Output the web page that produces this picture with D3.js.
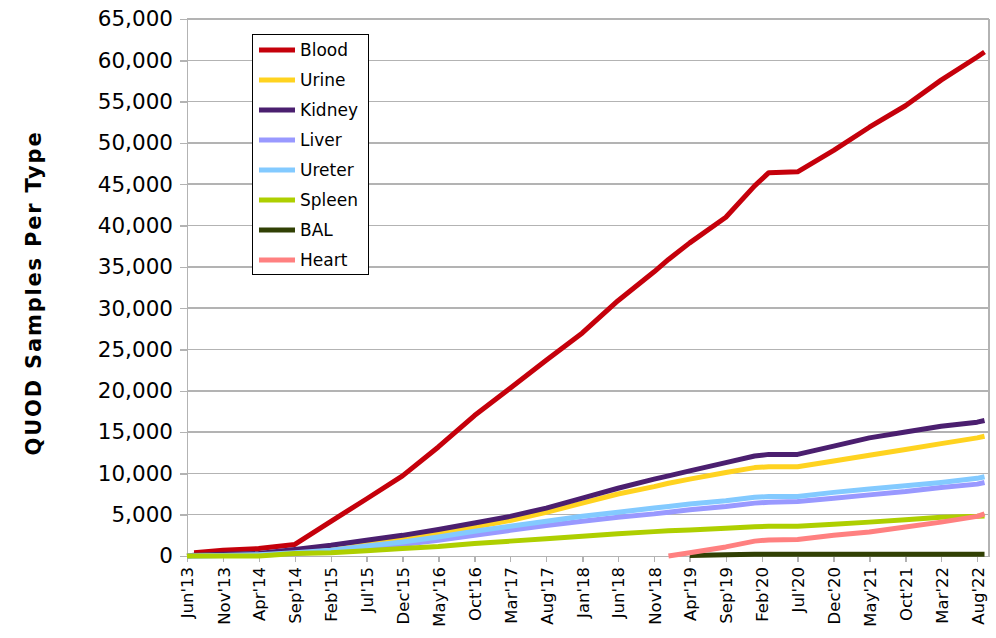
<!DOCTYPE html>
<html lang="en">
<head>
	<title>QUOD Samples</title>
	<meta charset="utf-8">
	<script src="https://d3js.org/d3.v7.min.js"></script>
	<style type="text/css">
		body {
			margin: 0;
			background: #fff;
			font-family: "DejaVu Sans", sans-serif;
		}

		.grid line {
			stroke: #b3b3b3;
			stroke-width: 1.5;
			shape-rendering: crispEdges;
		}

		.axis path,
		.axis line,
		.frame {
			stroke: #b3b3b3;
			stroke-width: 1.5;
			shape-rendering: crispEdges;
			fill: none;
		}

		.axis text {
			fill: #000;
			font-family: "DejaVu Sans", sans-serif;
		}

		.series {
			fill: none;
			stroke-width: 5;
			stroke-linejoin: round;
		}

		.legend-box {
			fill: #fff;
			stroke: #000;
			stroke-width: 1;
		}

		.legend text {
			font-size: 17px;
			fill: #000;
		}
	</style>
</head>
<body>
	<div id="vis"></div>

	<script type="text/javascript">

		/* Data */
		/* ==== */

		var months = ["2013-06", "2013-07", "2013-11", "2014-04", "2014-09", "2015-02", "2015-07",
			"2015-12", "2016-05", "2016-10", "2017-03", "2017-08", "2018-01", "2018-06", "2018-11",
			"2019-01", "2019-04", "2019-09", "2020-01", "2020-03", "2020-07", "2020-12", "2021-05",
			"2021-10", "2022-03", "2022-08", "2022-09"];

		var blood = [null, 400, 700, 900, 1400, 4200, 6900, 9700, 13200, 17000, 20300, 23700, 27000,
			30900, 34400, 35900, 37900, 41000, 44800, 46400, 46500, 49100, 51900, 54500, 57600, 60400, 61000];
		var urine = [0, 50, 150, 250, 600, 1000, 1500, 2100, 2800, 3500, 4300, 5300, 6400,
			7500, 8400, 8800, 9300, 10100, 10700, 10800, 10800, 11500, 12200, 12900, 13600, 14300, 14500];
		var kidney = [0, 100, 200, 300, 800, 1300, 1900, 2500, 3200, 4000, 4800, 5800, 7000,
			8200, 9300, 9700, 10300, 11300, 12100, 12300, 12300, 13300, 14300, 15000, 15700, 16200, 16400];
		var liver = [0, 0, 50, 100, 300, 600, 1000, 1400, 1900, 2500, 3100, 3700, 4200,
			4700, 5100, 5300, 5600, 6000, 6400, 6500, 6600, 7000, 7400, 7800, 8300, 8700, 8900];
		var ureter = [0, 0, 50, 150, 400, 700, 1200, 1700, 2300, 3000, 3600, 4200, 4800,
			5300, 5800, 6000, 6300, 6700, 7100, 7200, 7200, 7700, 8100, 8500, 8900, 9400, 9600];
		var spleen = [0, 0, 0, 0, 300, 400, 650, 900, 1150, 1500, 1800, 2100, 2400,
			2700, 2950, 3050, 3150, 3350, 3550, 3600, 3600, 3850, 4100, 4400, 4700, 4800, 4850];
		var bal = [null, null, null, null, null, null, null, null, null, null, null, null, null,
			null, null, null, 50, 150, 200, 200, 200, 200, 210, 210, 220, 220, 220];
		var heart = [null, null, null, null, null, null, null, null, null, null, null, null, null,
			null, null, 0, 400, 1100, 1800, 1950, 2000, 2500, 2900, 3500, 4100, 4800, 5100];

		var seriesNames = ["Blood", "Urine", "Kidney", "Liver", "Ureter", "Spleen", "BAL", "Heart"];
		var seriesValues = [blood, urine, kidney, liver, ureter, spleen, bal, heart];
		var seriesColors = ["#c5000b", "#ffd320", "#4b1f6f", "#9999ff", "#83caff", "#aecf00", "#314004", "#ff8080"];

		var tickLabels = ["Jun'13", "Nov'13", "Apr'14", "Sep'14", "Feb'15", "Jul'15", "Dec'15", "May'16",
			"Oct'16", "Mar'17", "Aug'17", "Jan'18", "Jun'18", "Nov'18", "Apr'19", "Sep'19", "Feb'20",
			"Jul'20", "Dec'20", "May'21", "Oct'21", "Mar'22", "Aug'22"];

		var yTicks = d3.range(0, 65001, 5000);


		function make() {

			/* Set up */
			/* ====== */

			var W = 996, H = 638;
			var margin = { top: 19, left: 187, right: 7, bottom: 82 };
			var width = W - margin.left - margin.right;
			var height = H - margin.top - margin.bottom;

			var svg = d3.select('#vis')
				.append('svg')
				.attr('width', W)
				.attr('height', H);

			var g = svg.append('g')
				.attr('transform', 'translate(' + margin.left + ',' + margin.top + ')');

			/* Scales */
			/* ====== */

			var parseMonth = d3.timeParse('%Y-%m');
			var parseTick = d3.timeParse("%b'%y");

			var xScale = d3.scaleTime()
				.domain([parseMonth('2013-06'), new Date(2022, 8, 20)])
				.range([0, width]);

			var yScale = d3.scaleLinear()
				.domain([0, 65000])
				.range([height, 0]);

			/* Grid */
			/* ---- */

			g.append('g')
				.attr('class', 'grid')
				.selectAll('line')
				.data(yTicks.slice(1))
				.enter()
				.append('line')
				.attr('x1', 0)
				.attr('x2', width)
				.attr('y1', function (d) { return yScale(d); })
				.attr('y2', function (d) { return yScale(d); });

			g.append('line')
				.attr('class', 'frame')
				.attr('x1', width).attr('x2', width)
				.attr('y1', 0).attr('y2', height);

			/* Axes */
			/* ---- */

			var yAxis = d3.axisLeft(yScale)
				.tickValues(yTicks)
				.tickSize(7)
				.tickSizeOuter(0)
				.tickPadding(7)
				.tickFormat(d3.format(','));

			g.append('g')
				.attr('class', 'axis y')
				.call(yAxis)
				.selectAll('text')
				.style('font-size', '21.5px');

			var xAxis = d3.axisBottom(xScale)
				.tickValues(tickLabels.map(function (t) { return parseTick(t); }))
				.tickSize(6)
				.tickSizeOuter(0)
				.tickFormat(function (d, i) { return tickLabels[i]; });

			var xAxisDraw = g.append('g')
				.attr('class', 'axis x')
				.attr('transform', 'translate(0,' + height + ')')
				.call(xAxis);

			xAxisDraw.selectAll('text')
				.style('font-size', '16.5px')
				.style('text-anchor', 'end')
				.attr('transform', 'rotate(-90)')
				.attr('x', -11)
				.attr('y', 0)
				.attr('dy', '0.36em');

			// y axis title
			svg.append('text')
				.attr('transform', 'translate(41,293) rotate(-90)')
				.attr('text-anchor', 'middle')
				.style('font-size', '21px')
				.style('font-weight', 'bold')
				.style('letter-spacing', '1.8px')
				.text('QUOD Samples Per Type');

			/* Lines */
			/* ===== */

			var line = d3.line()
				.defined(function (d) { return d.v !== null; })
				.x(function (d) { return xScale(d.date); })
				.y(function (d) { return yScale(d.v); });

			seriesNames.forEach(function (name, i) {
				var pts = months.map(function (m, j) {
					return { date: parseMonth(m), v: seriesValues[i][j] };
				});
				g.append('path')
					.datum(pts)
					.attr('class', 'series')
					.attr('stroke', seriesColors[i])
					.attr('d', line);
			});

			/* Legend */
			/* ====== */

			var legend = svg.append('g')
				.attr('class', 'legend')
				.attr('transform', 'translate(252,34)');

			legend.append('rect')
				.attr('class', 'legend-box')
				.attr('x', 0.5).attr('y', 0.5)
				.attr('width', 116).attr('height', 240);

			var items = legend.selectAll('.item')
				.data(seriesNames)
				.enter()
				.append('g')
				.attr('class', 'item')
				.attr('transform', function (d, i) { return 'translate(0,' + (16 + i * 30) + ')'; });

			items.append('line')
				.attr('x1', 7).attr('x2', 43)
				.attr('stroke-width', 5)
				.attr('stroke', function (d, i) { return seriesColors[i]; });

			items.append('text')
				.attr('x', 48)
				.attr('dy', '0.35em')
				.text(function (d) { return d; });

		} // make()

		make();

	</script>
</body>
</html>
